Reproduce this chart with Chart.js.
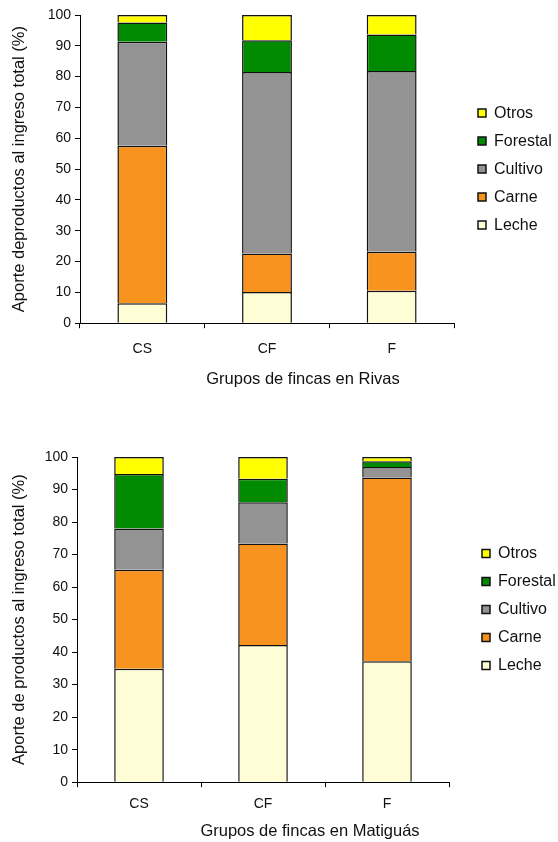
<!DOCTYPE html>
<html>
<head>
<meta charset="utf-8">
<script src="https://cdn.jsdelivr.net/npm/chart.js@4.4.1/dist/chart.umd.min.js"></script>
<style>
  body { margin: 0; background: #fff; }
  #top { position: absolute; left: 0; top: 0; }
  #bottom { position: absolute; left: 0; top: 440px; }
</style>
</head>
<body>
<canvas id="top" width="558" height="400"></canvas>
<canvas id="bottom" width="558" height="402"></canvas>
<script>
// categories
const groups = ["CS", "CF", "F"];
const products = ["Leche", "Carne", "Cultivo", "Forestal", "Otros"];
const colors = ["#FFFDD6", "#F7931E", "#939393", "#008A00", "#FFFF00"];

// Rivas (% of total income)
const rivasLeche    = [6.5, 10.1, 10.5];
const rivasCarne    = [51.1, 12.5, 12.7];
const rivasCultivo  = [33.7, 58.9, 58.6];
const rivasForestal = [6.3, 10.3, 11.9];
const rivasOtros    = [2.4, 8.2, 6.3];

// Matiguás (% of total income)
const matLeche    = [34.9, 42.2, 37.2];
const matCarne    = [30.4, 31.2, 56.5];
const matCultivo  = [12.7, 12.7, 3.2];
const matForestal = [16.8, 7.2, 1.8];
const matOtros    = [5.2, 6.7, 1.3];

const yTicks = [0, 10, 20, 30, 40, 50, 60, 70, 80, 90, 100];

const FONT = "'Liberation Sans', Arial, Helvetica, sans-serif";

// legend nudge + x-axis caption (the original caption sits right of centre)
const extras = {
  id: "extras",
  afterLayout(chart, args, opts) {
    const lg = chart.legend;
    if (lg && opts.legendDy) { lg.top += opts.legendDy; lg.bottom += opts.legendDy; }
  },
  afterDraw(chart, args, opts) {
    const a = chart.chartArea, ctx = chart.ctx;
    ctx.save();
    ctx.font = "16.5px " + FONT;
    ctx.fillStyle = "#111";
    ctx.textAlign = "center";
    ctx.textBaseline = "middle";
    ctx.fillText(opts.caption, (a.left + a.right) / 2 + opts.dx, a.bottom + opts.dy);
    ctx.restore();
  }
};

function makeChart(id, series, cfg) {
  return new Chart(document.getElementById(id), {
    type: "bar",
    data: {
      labels: groups,
      datasets: series.map((d, i) => ({
        label: products[i],
        data: d,
        backgroundColor: colors[i],
        borderColor: "#111",
        borderWidth: 1.5,
        barPercentage: 0.4,
        categoryPercentage: 1
      }))
    },
    plugins: [extras],
    options: {
      responsive: false,
      animation: false,
      layout: { padding: { top: cfg.top, bottom: cfg.bottom, left: 0, right: 0 } },
      plugins: {
        tooltip: { enabled: false },
        extras: { legendDy: cfg.legendDy, caption: cfg.xTitle, dx: cfg.capDx, dy: cfg.capDy },
        legend: {
          position: "right",
          fullSize: false,
          reverse: true,
          maxWidth: cfg.legendMax,
          labels: {
            boxWidth: 8,
            boxHeight: 8,
            padding: 12,
            color: "#111",
            font: { family: FONT, size: 16 }
          }
        }
      },
      scales: {
        x: {
          stacked: true,
          offset: true,
          grid: { display: true, offset: true, drawOnChartArea: false, drawTicks: true, tickLength: 5, color: "#000" },
          border: { display: true, color: "#000", width: 1 },
          ticks: { color: "#111", padding: cfg.xPad, maxRotation: 0, font: { family: FONT, size: 14 } }
        },
        y: {
          stacked: true,
          min: 0,
          max: 100,
          afterBuildTicks: s => { s.ticks = yTicks.map(v => ({ value: v })); },
          afterFit: s => { s.width = cfg.yWidth; },
          grid: { display: true, drawOnChartArea: false, drawTicks: true, tickLength: 5, color: "#000" },
          border: { display: true, color: "#000", width: 1 },
          ticks: { color: "#111", padding: 4, font: { family: FONT, size: 14 } },
          title: { display: true, text: cfg.yTitle, color: "#111", padding: { top: 10, bottom: 0 }, font: { family: FONT, size: 16.5 } }
        },
        gap: {
          type: "linear",
          position: "right",
          display: true,
          grid: { display: false },
          border: { display: false },
          ticks: { display: false },
          afterFit: s => { s.width = cfg.gap; }
        }
      }
    }
  });
}

makeChart("top",
  [rivasLeche, rivasCarne, rivasCultivo, rivasForestal, rivasOtros],
  { top: 15, bottom: 29, yWidth: 80, gap: 12, legendMax: 92, legendDy: 0, xPad: 13,
    capDx: 36, capDy: 56,
    xTitle: "Grupos de fincas en Rivas",
    yTitle: "Aporte deproductos al ingreso total (%)" });

makeChart("bottom",
  [matLeche, matCarne, matCultivo, matForestal, matOtros],
  { top: 17, bottom: 20, yWidth: 77, gap: 21, legendMax: 88, legendDy: -10, xPad: 9,
    capDx: 47, capDy: 49,
    xTitle: "Grupos de fincas en Matiguás",
    yTitle: "Aporte de productos al ingreso total (%)" });
</script>
</body>
</html>
